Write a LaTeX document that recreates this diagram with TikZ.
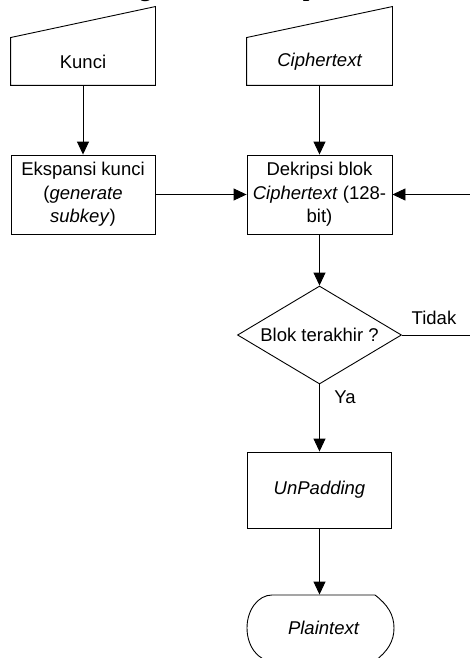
\documentclass[tikz,border=0pt]{standalone}
\usepackage{fontspec}
\setmainfont{Liberation Sans}
\newfontfamily\headfont{Liberation Serif}
\usetikzlibrary{shapes.geometric,arrows.meta,calc}

\tikzset{
  lbl/.style={font=\fontsize{18.5}{23.5}\selectfont, align=center, inner sep=0pt},
  procbox/.style={lbl, draw, rectangle, minimum width=144pt, minimum height=79pt},
  inputbox/.style={lbl, rectangle, minimum width=144pt, minimum height=47pt},
  decision/.style={lbl, draw, diamond, aspect=1.67, minimum width=164pt, minimum height=98pt},
  arr/.style={-{Triangle[length=13pt,width=12pt]}},
  outline/.style={line width=0.9pt},
}

\begin{document}
\begin{tikzpicture}[x=1pt, y=-1pt, line width=0.9pt, line join=miter]
\useasboundingbox (0,0) rectangle (470,658);
\clip (0,0) rectangle (470,658);

% heading (mostly above the page edge)
\node[anchor=base west, inner sep=0pt, font=\headfont\bfseries\fontsize{23.5}{28}\selectfont]
  (head) at (104,-3) {Diagram Alir Dekripsi};

% manual input: key
\node[inputbox] (kunci) at (83,61.5) {Kunci};
\draw[outline] (kunci.north west) -- ($(kunci.north east)+(0,-31)$)
  -- (kunci.south east) -- (kunci.south west) -- cycle;

% manual input: ciphertext
\node[inputbox, minimum width=145pt] (ciph) at (319.5,61.5) {\itshape Ciphertext};
\draw[outline] (ciph.north west) -- ($(ciph.north east)+(0,-31)$)
  -- (ciph.south east) -- (ciph.south west) -- cycle;

% processes
\node[procbox] (eks) at (83,194.5) {Ekspansi kunci\\(\textit{generate}\\\textit{subkey})};
\node[procbox, minimum width=145pt] (dek) at (319.5,194.5) {Dekripsi blok\\\textit{Ciphertext} (128-\\bit)};
\node[decision] (dec) at (319.5,335) {Blok terakhir ?};
\node[procbox, minimum height=76pt] (unp) at (319.5,490) {\itshape UnPadding};

% display: plaintext
\node[lbl, rectangle, minimum width=103pt, minimum height=66pt] (plain) at (323.5,628) {\itshape Plaintext};
\draw[outline] (272,595) -- (375,595)
  .. controls (388,605) and (394,615) .. (394,628)
  .. controls (394,641) and (388,651) .. (375,661)
  -- (272,661) arc[start angle=270, end angle=90, x radius=25pt, y radius=33pt];

% connectors
\coordinate (loopR) at (492,335);
\draw[arr] (kunci.south) -- (eks.north);
\draw[arr] (ciph.south) -- (dek.north);
\draw[arr] (eks.east) -- (dek.west);
\draw[arr] (dek.south) -- (dec.north);
\draw[arr] (dec.south) -- (unp.north);
\draw[arr] (unp.south) -- (unp.south |- plain.north);
\draw[arr] (dec.east) -- (loopR) |- (dek.east);

% branch labels
\node[lbl] (tidak) at (434,318) {Tidak};
\node[lbl] (ya) at (345,397) {Ya};
\end{tikzpicture}
\end{document}
